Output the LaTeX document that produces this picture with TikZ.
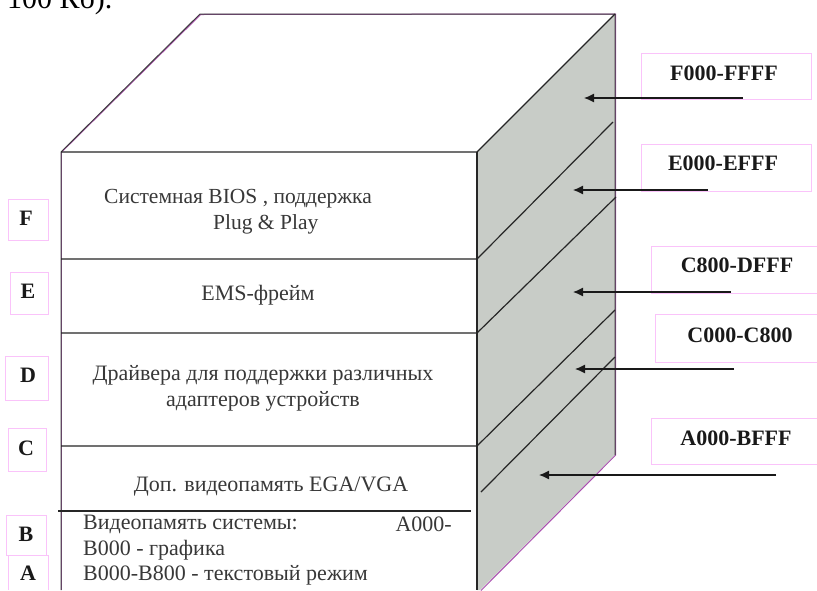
\documentclass[tikz,border=0pt]{standalone}
\usepackage{fontspec}
\setmainfont{Liberation Serif}
\usetikzlibrary{arrows.meta}
\definecolor{sidegray}{RGB}{200,204,199}
\definecolor{boxpink}{RGB}{250,195,250}
\definecolor{edgepurple}{RGB}{170,80,175}
\tikzset{
  x=1pt,y=-1pt,
  lbl/.style={draw=boxpink,line width=1pt,fill=white},
  edgeunder/.style={draw=edgepurple,line width=1pt},
  edge/.style={draw=black!75,line width=1pt},
  div/.style={draw=black!85,line width=1.2pt},
  arr/.style={draw=black!90,line width=1.2pt,-{Latex[length=10pt,width=9pt]}},
  body/.style={font=\fontsize{22}{26}\selectfont,text=black!78,inner sep=0pt},
  bodyt/.style={font=\fontsize{21.5}{26}\selectfont,text=black!78,inner sep=0pt},
  tag/.style={font=\fontsize{22}{24}\selectfont\bfseries,text=black!90,inner sep=0pt}
}
\begin{document}
\begin{tikzpicture}
\useasboundingbox (0,0) rectangle (817,590);
\fill[white] (0,0) rectangle (817,590);
\begin{scope}
\clip (0,0) rectangle (817,590);
\node[anchor=base west,font=\fontsize{30}{32}\selectfont,inner sep=0pt] (top) at (7,8) {100 Кб).};
\end{scope}
% label boxes
\draw[lbl] (641,53) rectangle (811,99);
\draw[lbl] (641,144) rectangle (811,191);
\draw[lbl] (651,246) -- (817,246) (651,246) -- (651,293) -- (817,293);
\draw[lbl] (655,314) -- (817,314) (655,314) -- (655,362) -- (817,362);
\draw[lbl] (651,418) -- (817,418) (651,418) -- (651,464) -- (817,464);
\draw[lbl] (8,199) rectangle (48,240);
\draw[lbl] (10,272) rectangle (48,314);
\draw[lbl] (5,356) rectangle (48,400);
\draw[lbl] (8,428) rectangle (46,471);
\draw[lbl] (6,515) rectangle (46,555);
\draw[lbl] (8,590) -- (8,555) -- (48,555) -- (48,590);
% cube
\fill[sidegray] (477,152) -- (615,14) -- (615,455) -- (480,590) -- (477,590) -- cycle;
\draw[edgeunder] (61.7,152) -- (200.7,14.5) -- (615.7,14) -- (615.7,455) -- (481,590.5);
\draw[edgeunder] (61,152) -- (61,590);
\draw[edge] (61,590) -- (61,152) -- (200,14) -- (615,14) -- (615,455);
\draw[div] (61,152) -- (477,152) -- (615,14);
\draw[div] (477,152) -- (477,590);
\draw[div] (61,259) -- (477,259) -- (613,122);
\draw[div] (61,333) -- (477,333) -- (616,197);
\draw[div] (61,446) -- (477,446) -- (615,310);
\draw[div] (58,511) -- (471,511);
\draw[div] (481,492) -- (615,357);
% texts
\node[bodyt,align=left,anchor=west] (t1) at (104,212) {Системная BIOS , поддержка\\\hspace*{109pt}Plug \& Play};
\node[body] (t2) at (258,295) {EMS-фрейм};
\node[body,align=center] (t3) at (263,388) {Драйвера для поддержки различных\\адаптеров устройств};
\node[body] (t4) at (271,487) {Доп. видеопамять EGA/VGA};
\node[body,anchor=west] (t5) at (83,524) {Видеопамять системы:};
\node[body,anchor=east] (t6) at (452,524) {A000-};
\node[body,anchor=west] (t7) at (83,550) {B000 - графика};
\node[body,anchor=west] (t8) at (83,575) {B000-B800 - текстовый режим};
% label texts
\node[tag] (f1) at (724,73) {F000-FFFF};
\node[tag] (e1) at (723,163) {E000-EFFF};
\node[tag] (c8) at (737,265) {C800-DFFF};
\node[tag] (c0) at (740,335) {C000-C800};
\node[tag] (a0) at (736,438) {A000-BFFF};
\node[tag] (F) at (26,218) {F};
\node[tag] (E) at (28,291) {E};
\node[tag] (D) at (28,375) {D};
\node[tag] (C) at (26,448) {C};
\node[tag] (B) at (26,534) {B};
\node[tag] (A) at (28,573) {A};
% arrows
\coordinate (s1) at (743,98); \coordinate (h1) at (584,98);
\coordinate (s2) at (708,190); \coordinate (h2) at (573,190);
\coordinate (s3) at (731,292); \coordinate (h3) at (573,292);
\coordinate (s4) at (734,369); \coordinate (h4) at (575,369);
\coordinate (s5) at (776,475); \coordinate (h5) at (539,475);
\draw[arr] (s1) -- (h1);
\draw[arr] (s2) -- (h2);
\draw[arr] (s3) -- (h3);
\draw[arr] (s4) -- (h4);
\draw[arr] (s5) -- (h5);
\end{tikzpicture}
\end{document}
